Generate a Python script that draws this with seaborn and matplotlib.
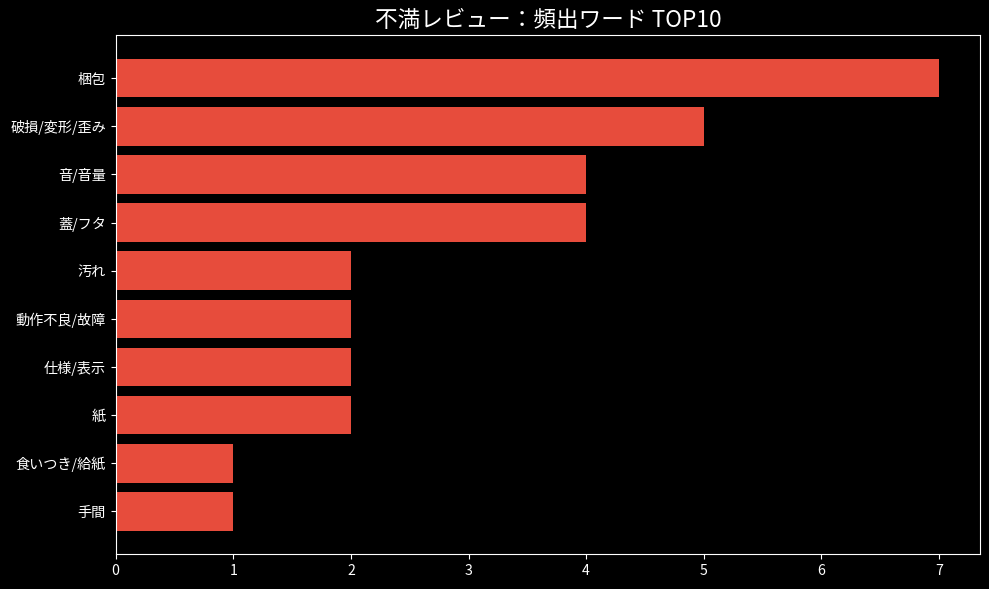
import matplotlib
matplotlib.use("Agg")
import matplotlib.pyplot as plt
import seaborn as sns
import pandas as pd

# data
words = ["梱包", "破損/変形/歪み", "音/音量", "蓋/フタ", "汚れ",
         "動作不良/故障", "仕様/表示", "紙", "食いつき/給紙", "手間"]
counts = [7, 5, 4, 4, 2, 2, 2, 2, 1, 1]

df = pd.DataFrame({"word": words, "count": counts})

plt.style.use("dark_background")
plt.rcParams["font.family"] = ["Noto Sans CJK JP", "DejaVu Sans"]

fig, ax = plt.subplots(figsize=(9.89, 5.89), dpi=100)
sns.barplot(data=df, x="count", y="word", orient="h", color="#e74c3c",
            saturation=1, width=0.8, ax=ax)

ax.set_ylim(9.89, -0.89)
ax.set_xlim(0, 7.35)
ax.set_title("不満レビュー：頻出ワード TOP10", fontsize=16.3)
ax.set_xlabel("")
ax.set_ylabel("")
ax.tick_params(labelsize=10.2)

plt.subplots_adjust(left=0.117, right=0.991, top=0.94, bottom=0.059)
plt.savefig("out.png", dpi=100)
